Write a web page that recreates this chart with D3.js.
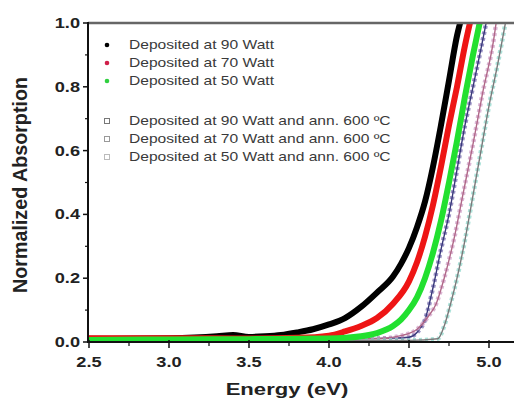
<!DOCTYPE html>
<html lang="en">

<head>
    <meta charset="UTF-8">
    <title>Normalized Absorption</title>
    <script src="https://cdn.jsdelivr.net/npm/d3@7"></script>
    <style>
        body { margin: 0; background: #fff; }
        text { font-family: Arial, "Liberation Sans", sans-serif; }
    </style>
</head>

<body>
    <svg></svg>
</body>
<script>
    // energy (eV) and normalized absorption
    const e90 = [2.5, 3.0, 3.3, 3.4, 3.5, 3.6, 3.7, 3.8, 3.9, 4.0, 4.1, 4.2, 4.3, 4.4, 4.45, 4.5, 4.55, 4.6, 4.65, 4.7, 4.75, 4.8, 4.83];
    const a90 = [0.01, 0.012, 0.018, 0.022, 0.016, 0.018, 0.022, 0.03, 0.04, 0.055, 0.075, 0.11, 0.155, 0.205, 0.245, 0.295, 0.36, 0.44, 0.55, 0.68, 0.82, 0.96, 1.02];
    const e70 = [2.5, 3.0, 3.5, 3.8, 4.0, 4.1, 4.2, 4.3, 4.4, 4.5, 4.55, 4.6, 4.65, 4.7, 4.75, 4.8, 4.85, 4.89];
    const a70 = [0.012, 0.012, 0.011, 0.013, 0.02, 0.033, 0.05, 0.075, 0.12, 0.19, 0.25, 0.33, 0.43, 0.55, 0.68, 0.8, 0.93, 1.02];
    const e50 = [2.5, 3.0, 3.5, 4.0, 4.2, 4.3, 4.4, 4.45, 4.5, 4.55, 4.6, 4.65, 4.7, 4.75, 4.8, 4.85, 4.9, 4.95];
    const a50 = [0.006, 0.008, 0.009, 0.011, 0.018, 0.028, 0.05, 0.07, 0.1, 0.14, 0.2, 0.28, 0.38, 0.5, 0.63, 0.77, 0.9, 1.02];
    const e90a = [2.5, 4.0, 4.4, 4.5, 4.55, 4.6, 4.65, 4.7, 4.75, 4.8, 4.85, 4.9, 4.95, 4.99];
    const a90a = [0.01, 0.01, 0.012, 0.015, 0.03, 0.07, 0.17, 0.29, 0.4, 0.54, 0.68, 0.8, 0.92, 1.02];
    const e70a = [2.5, 4.3, 4.45, 4.55, 4.62, 4.67, 4.72, 4.78, 4.84, 4.9, 4.96, 5.03, 5.05];
    const a70a = [0.01, 0.01, 0.02, 0.04, 0.08, 0.12, 0.2, 0.32, 0.47, 0.62, 0.78, 0.95, 1.02];
    const e50a = [2.5, 4.5, 4.68, 4.72, 4.76, 4.8, 4.85, 4.9, 4.95, 5.0, 5.05, 5.11];
    const a50a = [0.005, 0.005, 0.01, 0.05, 0.12, 0.2, 0.32, 0.46, 0.6, 0.74, 0.86, 1.02];

    const legendLabels = ['Deposited at 90 Watt', 'Deposited at 70 Watt', 'Deposited at 50 Watt',
        'Deposited at 90 Watt and ann. 600 ºC', 'Deposited at 70 Watt and ann. 600 ºC', 'Deposited at 50 Watt and ann. 600 ºC'];
    const xTicks = [2.5, 3.0, 3.5, 4.0, 4.5, 5.0];
    const yTicks = [0.0, 0.2, 0.4, 0.6, 0.8, 1.0];

    const width = 514, height = 400;
    const plotLeft = 88, plotTop = 23, plotBottom = 342;
    const sx = 1.3; // the picture's text is stretched sideways

    const svg = d3.select('svg')
        .attr('width', width)
        .attr('height', height);

    const x = d3.scaleLinear().domain([2.5, 5.0]).range([89, 489]);
    const y = d3.scaleLinear().domain([0, 1]).range([plotBottom, plotTop]);

    svg.append('clipPath').attr('id', 'plot')
        .append('rect')
        .attr('x', plotLeft).attr('y', plotTop)
        .attr('width', width - plotLeft).attr('height', plotBottom - plotTop);

    const series = [
        { e: e90, a: a90, color: '#000', filled: true },
        { e: e70, a: a70, color: '#ee1515', filled: true },
        { e: e50, a: a50, color: '#22e030', filled: true },
        { e: e90a, a: a90a, color: '#38387a', filled: false, dots: '#7a6fb0' },
        { e: e70a, a: a70a, color: '#b06888', filled: false, dots: '#d0a0c8' },
        { e: e50a, a: a50a, color: '#7a7a7a', filled: false, dots: '#8fd8cc' }
    ];

    const line = d3.line()
        .x(d => x(d[0]))
        .y(d => y(d[1]))
        .curve(d3.curveMonotoneX);

    const plot = svg.append('g').attr('clip-path', 'url(#plot)');

    // open-symbol series first, dense filled scatter on top
    series.filter(s => !s.filled).forEach(s => {
        const pts = s.e.map((v, i) => [v, s.a[i]]);
        plot.append('path')
            .attr('d', line(pts))
            .attr('fill', 'none')
            .attr('stroke', s.dots)
            .attr('stroke-width', 4.5)
            .attr('stroke-dasharray', '3,3')
            .attr('opacity', 0.75);
        plot.append('path')
            .attr('d', line(pts))
            .attr('fill', 'none')
            .attr('stroke', s.color)
            .attr('stroke-width', 1.4);
    });

    series.filter(s => s.filled).forEach(s => {
        const pts = s.e.map((v, i) => [v, s.a[i]]);
        plot.append('path')
            .attr('d', line(pts))
            .attr('fill', 'none')
            .attr('stroke', s.color)
            .attr('stroke-width', 6)
            .attr('stroke-linejoin', 'round');
    });

    // frame
    svg.append('line')
        .attr('x1', plotLeft).attr('x2', width).attr('y1', plotTop).attr('y2', plotTop)
        .attr('stroke', '#666').attr('stroke-width', 2.5);
    svg.append('line')
        .attr('x1', plotLeft).attr('x2', plotLeft).attr('y1', plotTop - 1).attr('y2', plotBottom + 1)
        .attr('stroke', '#111').attr('stroke-width', 2);
    svg.append('line')
        .attr('x1', plotLeft - 1).attr('x2', width).attr('y1', plotBottom).attr('y2', plotBottom)
        .attr('stroke', '#111').attr('stroke-width', 2);

    // ticks
    const yMinor = d3.range(0.1, 1, 0.2);
    svg.selectAll('.ytick').data(yTicks).join('line')
        .attr('x1', plotLeft - 5).attr('x2', plotLeft + 1)
        .attr('y1', d => y(d)).attr('y2', d => y(d))
        .attr('stroke', '#111').attr('stroke-width', 1.5);
    svg.selectAll('.yminor').data(yMinor).join('line')
        .attr('x1', plotLeft - 3).attr('x2', plotLeft)
        .attr('y1', d => y(d)).attr('y2', d => y(d))
        .attr('stroke', '#111').attr('stroke-width', 1.2);
    const xMinor = d3.range(2.75, 5.2, 0.5);
    svg.selectAll('.xtick').data(xTicks).join('line')
        .attr('x1', d => x(d)).attr('x2', d => x(d))
        .attr('y1', plotBottom - 2).attr('y2', plotBottom + 6)
        .attr('stroke', '#111').attr('stroke-width', 1.5);
    svg.selectAll('.xminor').data(xMinor).join('line')
        .attr('x1', d => x(d)).attr('x2', d => x(d))
        .attr('y1', plotBottom).attr('y2', plotBottom + 4)
        .attr('stroke', '#111').attr('stroke-width', 1.2);

    // stretched text helper
    const label = (px, py, str, size, anchor, weight, fill) => svg.append('text')
        .attr('transform', `translate(${px},${py}) scale(${sx},1)`)
        .attr('text-anchor', anchor)
        .attr('dy', '0.35em')
        .attr('font-size', size)
        .attr('font-weight', weight)
        .attr('fill', fill)
        .text(str);

    yTicks.forEach(d => label(plotLeft - 8, y(d), d.toFixed(1), 14, 'end', 'bold', '#222'));
    xTicks.forEach(d => label(x(d), 362, d.toFixed(1), 14, 'middle', 'bold', '#222'));
    label(287, 389, 'Energy (eV)', 17, 'middle', 'bold', '#222');

    svg.append('text')
        .attr('transform', 'translate(20,185) rotate(-90) scale(1,1.3)')
        .attr('text-anchor', 'middle')
        .attr('dy', '0.35em')
        .attr('font-size', 15)
        .attr('font-weight', 'bold')
        .attr('fill', '#222')
        .attr('textLength', 216)
        .attr('lengthAdjust', 'spacingAndGlyphs')
        .text('Normalized Absorption');

    // legend
    const legendY = [45, 63, 81, 121, 139, 157];
    const markColors = ['#000', '#d0204a', '#30d040', '#777', '#999', '#bbb'];
    legendLabels.forEach((t, i) => {
        if (i < 3) {
            svg.append('circle')
                .attr('cx', 107).attr('cy', legendY[i]).attr('r', 2.3)
                .attr('fill', markColors[i]);
        } else {
            svg.append('rect')
                .attr('x', 104.5).attr('y', legendY[i] - 2.5)
                .attr('width', 5).attr('height', 5)
                .attr('fill', 'none')
                .attr('stroke', markColors[i]).attr('stroke-width', 1);
        }
        label(129, legendY[i], t, 12, 'start', 'normal', '#3a3a3a');
    });
</script>

</html>
